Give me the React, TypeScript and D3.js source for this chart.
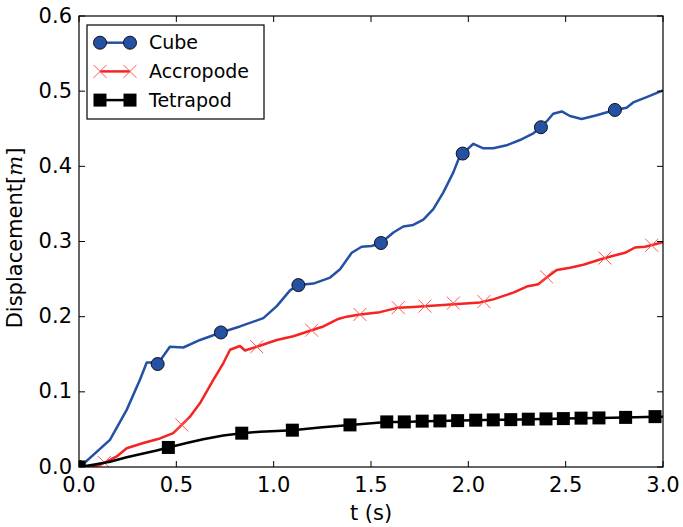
import * as d3 from 'd3'

const W = 683
const H = 527
const margin = { top: 16, right: 20, bottom: 60, left: 79 }

// Cube (blue, circles)
const cubeT = [0, 0.005, 0.159, 0.245, 0.313, 0.348, 0.373, 0.404, 0.467, 0.536, 0.622, 0.729, 0.827, 0.947, 1.016, 1.084, 1.127, 1.204, 1.29, 1.341, 1.401, 1.452, 1.503, 1.551, 1.615, 1.666, 1.717, 1.769, 1.82, 1.871, 1.923, 1.949, 1.971, 2.026, 2.077, 2.128, 2.197, 2.265, 2.334, 2.373, 2.403, 2.436, 2.48, 2.522, 2.582, 2.659, 2.753, 2.813, 2.847, 2.916, 3.0]
const cubeV = [0, 0, 0.036, 0.076, 0.116, 0.139, 0.139, 0.137, 0.16, 0.159, 0.169, 0.179, 0.187, 0.198, 0.214, 0.235, 0.242, 0.244, 0.252, 0.263, 0.285, 0.293, 0.294, 0.298, 0.312, 0.32, 0.322, 0.329, 0.343, 0.365, 0.392, 0.409, 0.417, 0.43, 0.424, 0.424, 0.428, 0.435, 0.444, 0.452, 0.46, 0.47, 0.473, 0.467, 0.463, 0.468, 0.475, 0.478, 0.485, 0.492, 0.501]
const cubeMarkT = [0, 0.404, 0.729, 1.127, 1.551, 1.971, 2.373, 2.753]
const cubeMarkV = [0, 0.137, 0.179, 0.242, 0.298, 0.417, 0.452, 0.475]

// Accropode (red, crosses)
const accT = [0, 0.073, 0.125, 0.194, 0.245, 0.33, 0.416, 0.484, 0.528, 0.57, 0.622, 0.69, 0.741, 0.776, 0.827, 0.853, 0.913, 1.016, 1.101, 1.195, 1.255, 1.332, 1.375, 1.443, 1.546, 1.64, 1.717, 1.889, 2.06, 2.128, 2.231, 2.3, 2.359, 2.402, 2.454, 2.522, 2.591, 2.676, 2.745, 2.805, 2.856, 2.908, 3.0]
const accV = [0, 0, 0.005, 0.014, 0.025, 0.032, 0.038, 0.045, 0.056, 0.067, 0.085, 0.116, 0.138, 0.156, 0.161, 0.155, 0.16, 0.169, 0.174, 0.182, 0.187, 0.197, 0.2, 0.203, 0.206, 0.212, 0.213, 0.216, 0.219, 0.223, 0.232, 0.24, 0.243, 0.252, 0.262, 0.265, 0.269, 0.276, 0.281, 0.285, 0.292, 0.293, 0.299]
const accMarkT = [0.13, 0.528, 0.913, 1.195, 1.443, 1.64, 1.777, 1.923, 2.08, 2.402, 2.702, 2.942]
const accMarkV = [0.006, 0.056, 0.16, 0.182, 0.203, 0.212, 0.214, 0.218, 0.22, 0.253, 0.278, 0.295]

// Tetrapod (black, squares)
const tetT = [0, 0.073, 0.159, 0.245, 0.33, 0.399, 0.459, 0.553, 0.638, 0.741, 0.836, 0.93, 1.016, 1.096, 1.25, 1.392, 1.581, 1.671, 1.763, 1.854, 1.945, 2.038, 2.128, 2.218, 2.308, 2.399, 2.488, 2.579, 2.671, 2.808, 2.959, 3.0]
const tetV = [0, 0.003, 0.007, 0.013, 0.018, 0.022, 0.026, 0.032, 0.037, 0.042, 0.045, 0.047, 0.048, 0.049, 0.053, 0.056, 0.06, 0.06, 0.061, 0.0613, 0.0617, 0.0623, 0.0627, 0.063, 0.0636, 0.064, 0.0644, 0.065, 0.0653, 0.066, 0.067, 0.067]
const tetMarkT = [0, 0.459, 0.836, 1.096, 1.392, 1.581, 1.671, 1.763, 1.854, 1.945, 2.038, 2.128, 2.218, 2.308, 2.399, 2.488, 2.579, 2.671, 2.808, 2.959]
const tetMarkV = [0, 0.026, 0.045, 0.049, 0.056, 0.06, 0.06, 0.061, 0.0613, 0.0617, 0.0623, 0.0627, 0.063, 0.0636, 0.064, 0.0644, 0.065, 0.0653, 0.066, 0.067]

const xTicks = [0, 0.5, 1, 1.5, 2, 2.5, 3]
const yTicks = [0, 0.1, 0.2, 0.3, 0.4, 0.5, 0.6]
const legendNames = ['Cube', 'Accropode', 'Tetrapod']

const BLUE = '#2451a4'
const RED = '#f42424'
const BLACK = '#000'
const font = "'DejaVu Sans', sans-serif"

const x = d3.scaleLinear().domain([0, 3]).range([margin.left, W - margin.right])
const y = d3.scaleLinear().domain([0, 0.6]).range([H - margin.bottom, margin.top])

const line = d3.line<[number, number]>().x(d => x(d[0])).y(d => y(d[1]))
const zip = (a: number[], b: number[]) => a.map((t, i) => [t, b[i]] as [number, number])

function Circle({ cx, cy }: { cx: number; cy: number }) {
    return <circle cx={cx} cy={cy} r={6.5} fill={BLUE} stroke="#111" strokeWidth={1} />
}
function Cross({ cx, cy }: { cx: number; cy: number }) {
    const s = 6.5
    return <path d={`M${cx - s},${cy - s}L${cx + s},${cy + s}M${cx - s},${cy + s}L${cx + s},${cy - s}`} stroke="#f55" strokeWidth={1} fill="none" />
}
function Square({ cx, cy }: { cx: number; cy: number }) {
    return <rect x={cx - 6.5} y={cy - 6.5} width={13} height={13} fill={BLACK} />
}

export default function App() {
    const x0 = x(0), x1 = x(3), y0 = y(0), y1 = y(0.6)
    const series = [
        { t: cubeT, v: cubeV, mt: cubeMarkT, mv: cubeMarkV, color: BLUE, M: Circle },
        { t: accT, v: accV, mt: accMarkT, mv: accMarkV, color: RED, M: Cross },
        { t: tetT, v: tetV, mt: tetMarkT, mv: tetMarkV, color: BLACK, M: Square },
    ]
    const lx = 87, ly = 25, lw = 177, lh = 94
    return (
        <svg width={W} height={H} style={{ position: 'absolute', left: 0, top: 0, background: '#fff' }}>
            <defs>
                <clipPath id="plot">
                    <rect x={x0} y={y1} width={x1 - x0} height={y0 - y1} />
                </clipPath>
            </defs>
            <g clipPath="url(#plot)">
                {series.map((s, i) => (
                    <g key={i}>
                        <path d={line(zip(s.t, s.v)) || ''} fill="none" stroke={s.color} strokeWidth={2.5} strokeLinejoin="round" />
                        {s.mt.map((t, j) => <s.M key={j} cx={x(t)} cy={y(s.mv[j])} />)}
                    </g>
                ))}
            </g>
            <rect x={x0} y={y1} width={x1 - x0} height={y0 - y1} fill="none" stroke="#000" strokeWidth={1.2} />
            {xTicks.map(t => (
                <g key={'x' + t}>
                    <line x1={x(t)} x2={x(t)} y1={y0} y2={y0 - 6} stroke="#000" />
                    <line x1={x(t)} x2={x(t)} y1={y1} y2={y1 + 6} stroke="#000" />
                    <text x={x(t)} y={492} textAnchor="middle" fontFamily={font} fontSize={21}>{t.toFixed(1)}</text>
                </g>
            ))}
            {yTicks.map(v => (
                <g key={'y' + v}>
                    <line x1={x0} x2={x0 + 6} y1={y(v)} y2={y(v)} stroke="#000" />
                    <line x1={x1} x2={x1 - 6} y1={y(v)} y2={y(v)} stroke="#000" />
                    <text x={72} y={y(v) + 6.5} textAnchor="end" fontFamily={font} fontSize={21}>{v.toFixed(1)}</text>
                </g>
            ))}
            <text x={(x0 + x1) / 2} y={520} textAnchor="middle" fontFamily={font} fontSize={21}>t (s)</text>
            <text transform={`translate(22, 238) rotate(-90)`} textAnchor="middle" fontFamily={font} fontSize={21}>
                Displacement[<tspan fontFamily="'DejaVu Serif', serif" fontStyle="italic">m</tspan>]
            </text>
            <rect x={lx} y={ly} width={lw} height={lh} fill="#fff" stroke="#000" strokeWidth={1.2} />
            {series.map((s, i) => {
                const cy = 42.7 + i * 28.7
                return (
                    <g key={'l' + i}>
                        <line x1={100} x2={130} y1={cy} y2={cy} stroke={s.color} strokeWidth={2.5} />
                        <s.M cx={100} cy={cy} />
                        <s.M cx={130} cy={cy} />
                        <text x={149} y={cy + 6.5} fontFamily={font} fontSize={19}>{legendNames[i]}</text>
                    </g>
                )
            })}
        </svg>
    )
}
